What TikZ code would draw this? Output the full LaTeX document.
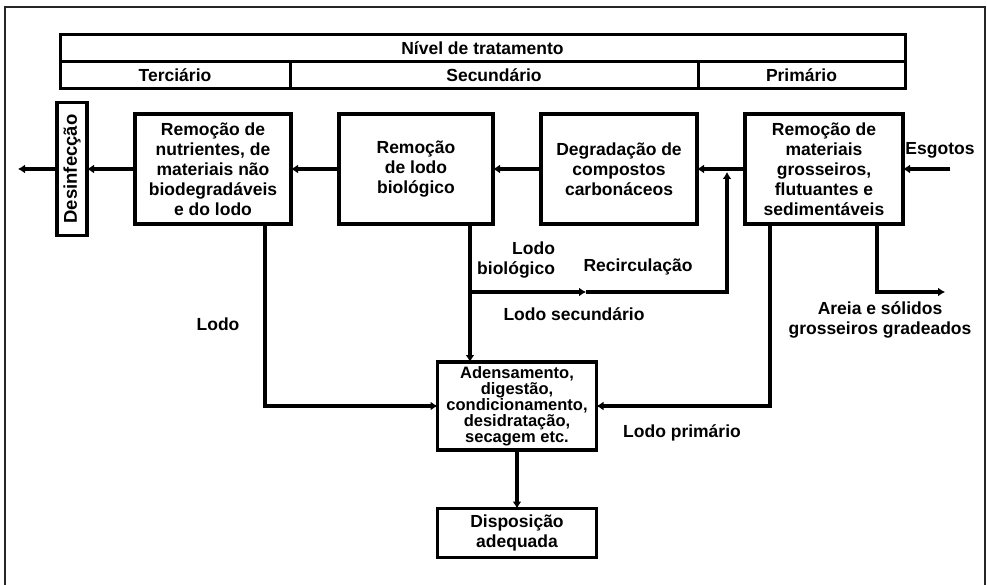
\documentclass[tikz,border=0pt]{standalone}
\usepackage{graphicx}
\usepackage{fontspec}
\setmainfont{Liberation Sans}
\usetikzlibrary{arrows.meta,positioning}

\newcommand{\tightlines}{\lineskiplimit=-30pt\relax}

\begin{document}
\begin{tikzpicture}[
    x=1pt, y=-1pt,
    node distance=48pt,
    every node/.style={
        font=\bfseries\fontsize{17.5}{20}\selectfont,
        outer sep=0pt
    },
    unit/.style={
        draw,
        line width=3.5pt,
        align=center,
        inner sep=0pt,
        minimum width=156pt,
        minimum height=110pt
    },
    level/.style={
        draw,
        line width=3pt,
        inner sep=0pt,
        minimum height=27pt
    },
    flow/.style={
        -{Latex[length=7pt,width=9pt]},
        line width=3.5pt
    },
    tag/.style={
        align=center,
        inner sep=0pt
    }
]

\useasboundingbox (0,0) rectangle (987,585);
\draw[line width=2pt, black!85] (5,590) |- (985,7) -- (985,590);

%---------------------------------------------------------------------
% Treatment levels
%---------------------------------------------------------------------

\node[level, minimum width=845pt] (nivel) at (482.5,48.5) {Nível de tratamento};
\node[level, minimum width=230pt, anchor=north west] (terc) at (nivel.south west) {Terciário};
\node[level, minimum width=408pt, anchor=west] (sec) at (terc.east) {Secundário};
\node[level, minimum width=207pt, anchor=west] (prim) at (sec.east) {Primário};

%---------------------------------------------------------------------
% Main line
%---------------------------------------------------------------------

\node[draw, line width=3.5pt, inner sep=0pt, minimum width=30pt, minimum height=133pt]
    (des) at (72,169) {\rotatebox{90}{\fontsize{18.5}{20}\selectfont Desinfecção}};

\node[unit, right=of des] (nutr) {
    Remoção de\\
    nutrientes, de\\
    materiais não\\
    biodegradáveis\\
    e do lodo
};

\node[unit, minimum width=154pt, right=of nutr] (bio) {
    Remoção\\
    de lodo\\
    biológico
};

\node[unit, right=of bio] (degr) {
    Degradação de\\
    compostos\\
    carbonáceos
};

\node[unit, minimum width=158pt, right=of degr] (mat) {
    Remoção de\\
    materiais\\
    grosseiros,\\
    flutuantes e\\
    sedimentáveis
};

%---------------------------------------------------------------------
% Sludge line
%---------------------------------------------------------------------

\node[unit, minimum width=159pt, minimum height=88pt,
    font=\bfseries\fontsize{16.5}{16}\selectfont\tightlines]
    (aden) at (517,406) {
    Adensamento,\\
    digestão,\\
    condicionamento,\\
    desidratação,\\
    secagem etc.
};

\node[unit, minimum width=159pt, minimum height=49pt] (disp) at (517,533) {
    Disposição\\
    adequada
};

%---------------------------------------------------------------------
% Flows
%---------------------------------------------------------------------

\coordinate (esg) at (950,169);
\coordinate (out) at (18,169);

\draw[flow] (esg) -- (mat);
\draw[flow] (mat) -- (degr);
\draw[flow] (degr) -- (bio);
\draw[flow] (bio) -- (nutr);
\draw[flow] (nutr) -- (des);
\draw[flow] (des) -- (out);

\coordinate (bioout) at ([xshift=54pt]bio.south);
\coordinate (rj) at (bioout |- 0,292);
\coordinate (recmid) at (586,292);
\coordinate (rectop) at (727,172);
\coordinate (areia) at (945,292);

\draw[flow] (bioout) -- (bioout |- aden.north);
\draw[flow] (rj) -- (recmid);
\draw[flow] (recmid) -| (rectop);

\draw[flow] ([xshift=52pt]nutr.south) |- (aden);
\draw[flow] ([xshift=-54pt]mat.south) |- (aden);
\draw[flow] ([xshift=53pt]mat.south) |- (areia);
\draw[flow] (aden) -- (disp);

%---------------------------------------------------------------------
% Labels
%---------------------------------------------------------------------

\node (esgtag) at (940,150) {Esgotos};
\node (lodotag) at (218,324) {Lodo};
\node[tag, align=right, anchor=east] (biotag) at (555,260) {Lodo\\biológico};
\node (rectag) at (638,267) {Recirculação};
\node (sectag) at (574,314) {Lodo secundário};
\node (primtag) at (682,433) {Lodo primário};
\node[tag] (areiatag) at (880,320) {Areia e sólidos\\grosseiros gradeados};

\end{tikzpicture}
\end{document}
